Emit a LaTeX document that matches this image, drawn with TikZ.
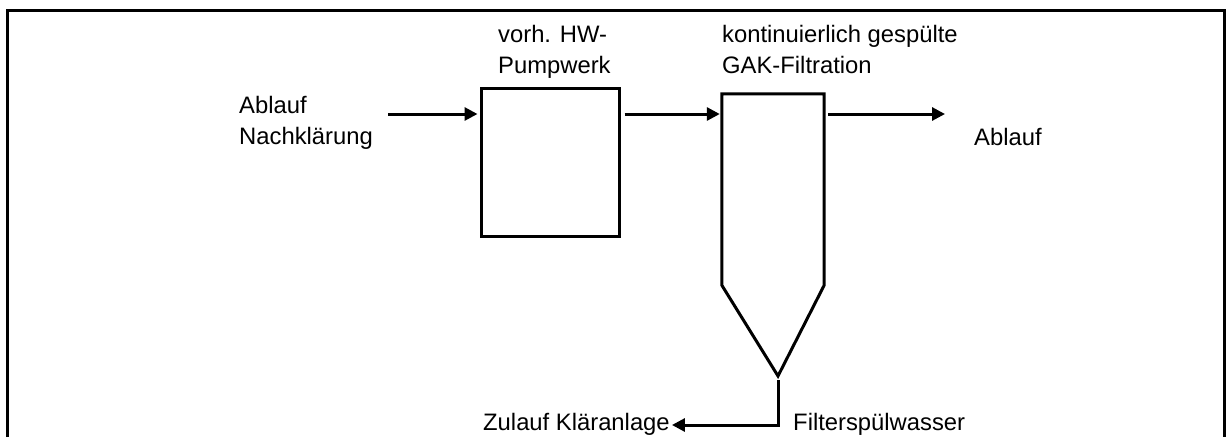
\documentclass[tikz,border=0pt]{standalone}
\usepackage{fontspec}
\setmainfont{Liberation Sans}
\usetikzlibrary{arrows.meta}
\begin{document}
\begin{tikzpicture}[x=1pt,y=-1pt,
  lbl/.style={anchor=base west,inner sep=0pt,align=left,font=\fontsize{23.8}{30.5}\selectfont},
  unit/.style={draw,line width=3pt,inner sep=0pt},
  frame/.style={line width=3pt},
  flow/.style={line width=3pt,-{Triangle[length=13pt,width=13pt]}}]
\useasboundingbox (0,0) rectangle (1226,437);
\draw[frame] (7,437) -- (7,10) -- (1224,10) -- (1224,437);

% units
\node[unit,minimum width=138pt,minimum height=148pt] (pump) at (550,162) {};
\node[inner sep=0pt,minimum width=102pt,minimum height=191pt] (filter) at (773,189.5) {};
\coordinate (tip) at (778,376);
\draw[line width=3pt,line join=miter] (filter.south west) -- (filter.north west) -- (filter.north east) -- (filter.south east) -- (tip) -- cycle;

% labels (base anchor = baseline of last line)
\node[lbl] (lIn) at (239,144) {Ablauf\\Nachklärung};
\node[lbl] (lPump) at (498,73) {vorh. HW-\\Pumpwerk};
\node[lbl] (lFilt) at (722,73) {kontinuierlich gespülte\\GAK-Filtration};
\node[lbl] (lOut) at (974,145) {Ablauf};
\node[lbl] (lRet) at (483,430) {Zulauf Kläranlage};
\node[lbl] (lWash) at (793,430) {Filterspülwasser};

% flows
\coordinate (inStart) at (388,114);
\coordinate (outEnd) at (945,114);
\coordinate (retY) at (0,425);
\draw[flow] (inStart) -- ([xshift=-2pt]pump.west |- inStart);
\draw[flow] ([xshift=4pt]pump.east |- inStart) -- ([xshift=-2pt]filter.west |- inStart);
\draw[flow] ([xshift=4pt]filter.east |- inStart) -- (outEnd);
\draw[flow] ([yshift=-4pt]tip) -- (tip |- retY) -- ([xshift=2pt]lRet.east |- retY);
\end{tikzpicture}
\end{document}
